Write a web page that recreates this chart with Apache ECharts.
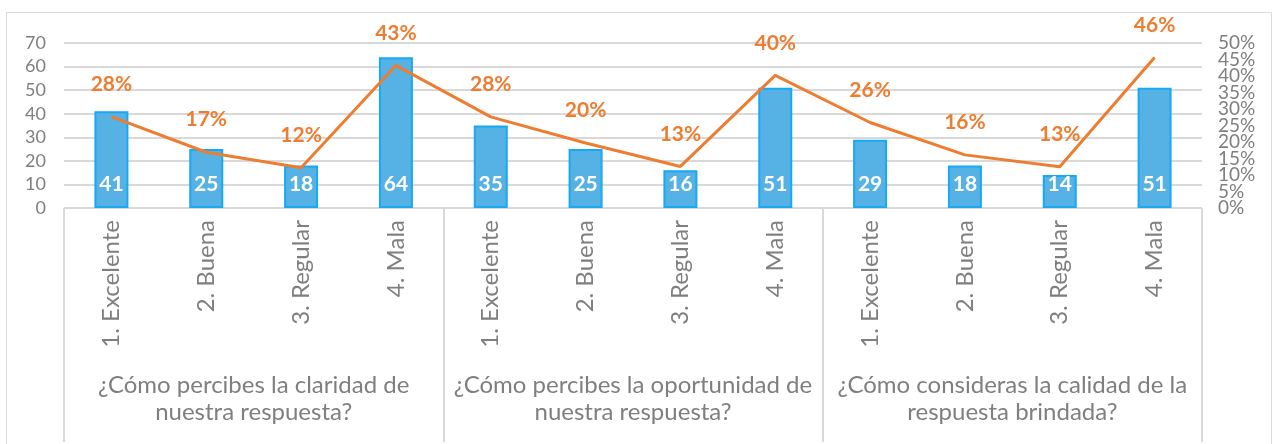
<!DOCTYPE html>
<html>
<head>
<meta charset="utf-8">
<script src="https://cdn.jsdelivr.net/npm/echarts@6/dist/echarts.min.js"></script>
<style>
  html, body { margin: 0; padding: 0; background: #fff; }
  #chart { width: 1274px; height: 444px; }
</style>
</head>
<body>
<div id="chart"></div>
<script>
// data
var answers = ['1. Excelente', '2. Buena', '3. Regular', '4. Mala',
               '1. Excelente', '2. Buena', '3. Regular', '4. Mala',
               '1. Excelente', '2. Buena', '3. Regular', '4. Mala'];
var questions = ['¿Cómo percibes la claridad de\nnuestra respuesta?',
                 '¿Cómo percibes la oportunidad de\nnuestra respuesta?',
                 '¿Cómo consideras la calidad de la\nrespuesta brindada?'];
var counts = [41, 25, 18, 64, 35, 25, 16, 51, 29, 18, 14, 51];
var shares = [0.277, 0.169, 0.122, 0.432, 0.276, 0.197, 0.126, 0.402, 0.259, 0.161, 0.125, 0.456];

var grey = '#7f7f7f';
var lineGrey = '#d9d9d9';
var font = 'Lato, "Open Sans", sans-serif';

function pct(v) { return Math.round(v * 100) + '%'; }

var chart = echarts.init(document.getElementById('chart'));
chart.setOption({
    animation: false,
    textStyle: { fontFamily: font },
    graphic: [{
        type: 'rect',
        shape: { x: 6.5, y: 12.5, width: 1265, height: 450 },
        style: { fill: 'none', stroke: lineGrey, lineWidth: 1 },
        silent: true
    }],
    grid: { left: 64, right: 72, top: 43, bottom: 236 },
    xAxis: [{
        type: 'category',
        data: answers,
        axisLine: { lineStyle: { color: lineGrey, width: 1 } },
        axisTick: { show: false },
        axisLabel: { interval: 0, rotate: 90, margin: 12, color: grey, fontSize: 24, fontFamily: font }
    }, {
        type: 'category',
        data: questions,
        position: 'bottom',
        axisLine: { show: false },
        axisTick: { show: true, interval: 0, length: 234, lineStyle: { color: lineGrey, width: 2 } },
        axisLabel: { interval: 0, margin: 164, color: grey, fontSize: 24, lineHeight: 27, fontFamily: font }
    }],
    yAxis: [{
        type: 'value',
        min: 0, max: 70, interval: 10,
        axisLine: { show: false },
        axisTick: { show: false },
        axisLabel: { color: grey, fontSize: 18, margin: 18, fontFamily: font },
        splitLine: { lineStyle: { color: lineGrey, width: 2 } }
    }, {
        // right axis, inner labels 5%..45%
        type: 'value',
        position: 'right',
        min: 0, max: 0.5, interval: 0.05,
        axisLine: { show: false },
        axisTick: { show: false },
        splitLine: { show: false },
        axisLabel: {
            color: grey, fontSize: 19, margin: 16, fontFamily: font,
            showMinLabel: false, showMaxLabel: false,
            formatter: pct
        }
    }, {
        // same right axis, end labels 0% and 50%
        type: 'value',
        position: 'right',
        min: 0, max: 0.5, interval: 0.5,
        axisLine: { show: false },
        axisTick: { show: false },
        splitLine: { show: false },
        axisLabel: { color: grey, fontSize: 19, margin: 16, fontFamily: font, formatter: pct }
    }],
    series: [{
        type: 'bar',
        data: counts,
        barWidth: 34,
        itemStyle: { color: '#56b1e4', borderColor: '#17a9f2', borderWidth: 2 },
        label: {
            show: true, position: 'insideBottom', distance: 13,
            color: '#fff', fontSize: 21, fontWeight: 'bold', fontFamily: font
        }
    }, {
        type: 'line',
        yAxisIndex: 1,
        data: shares,
        symbol: 'circle',
        symbolSize: 0,
        showSymbol: true,
        lineStyle: { color: '#ed7d31', width: 3 },
        itemStyle: { color: '#ed7d31' },
        label: {
            show: true, position: 'top', distance: 22,
            color: '#ed7d31', fontSize: 21, fontWeight: 'bold', fontFamily: font,
            formatter: function (p) { return pct(p.value); }
        }
    }]
});
</script>
</body>
</html>
